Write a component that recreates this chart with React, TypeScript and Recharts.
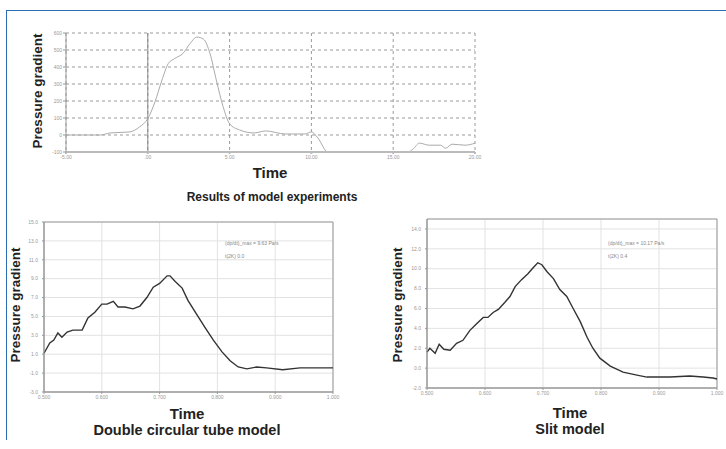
import React from "react";
import {
  LineChart,
  Line,
  CartesianGrid,
  XAxis,
  YAxis,
  ReferenceLine,
  ReferenceArea,
} from "recharts";

// upper chart: results of model experiments
const topTime = [-5, -2.9, -2.3, -1.1, -0.5, 0, 0.45, 0.85, 1.25, 1.65, 2.15, 2.6, 3.0, 3.4, 3.8, 4.2, 4.6, 5.0, 5.6, 6.5, 7.2, 8.4, 9.6, 10.0, 10.4, 11.0, 13.5, 15.9, 16.2, 16.6, 17.2, 17.9, 18.2, 18.6, 19.4, 20];
const topPressure = [0, 0, 12, 18, 48, 96, 198, 318, 420, 450, 480, 540, 576, 564, 480, 318, 168, 66, 30, 12, 24, 6, 6, 18, -18, -100, -100, -100, -84, -48, -60, -60, -78, -54, -60, -48];
const topXTicks = [-5, 0, 5, 10, 15, 20];
const topXLabels = ["-5.00", ".00", "5.00", "10.00", "15.00", "20.00"];
const topYTicks = [-100, 0, 100, 200, 300, 400, 500, 600];

// double circular tube model
const dctTime = [0.5, 0.51, 0.517, 0.524, 0.531, 0.54, 0.55, 0.566, 0.576, 0.588, 0.6, 0.609, 0.62, 0.628, 0.64, 0.654, 0.666, 0.678, 0.689, 0.7, 0.713, 0.718, 0.727, 0.739, 0.749, 0.765, 0.779, 0.793, 0.808, 0.822, 0.836, 0.851, 0.868, 0.885, 0.913, 0.943, 1.0];
const dctPressure = [1.1, 2.2, 2.5, 3.25, 2.8, 3.35, 3.55, 3.55, 4.85, 5.45, 6.3, 6.3, 6.6, 6.0, 6.0, 5.8, 6.1, 7.0, 8.1, 8.5, 9.3, 9.3, 8.7, 8.0, 6.7, 5.15, 3.8, 2.5, 1.25, 0.3, -0.35, -0.55, -0.35, -0.45, -0.65, -0.45, -0.45];
const dctYTicks = [-3, -1, 1, 3, 5, 7, 9, 11, 13, 15];
const dctNote = ["(dp/dt)_max = 9.63 Pa/s", "t(2K) 0.0"];

// slit model
const slitTime = [0.5, 0.505, 0.514, 0.521, 0.529, 0.54, 0.551, 0.562, 0.574, 0.586, 0.597, 0.605, 0.614, 0.623, 0.634, 0.643, 0.652, 0.663, 0.674, 0.683, 0.691, 0.698, 0.707, 0.718, 0.729, 0.741, 0.752, 0.764, 0.776, 0.786, 0.798, 0.816, 0.838, 0.862, 0.879, 0.919, 0.953, 0.976, 0.993, 1.0];
const slitPressure = [1.6, 2.0, 1.5, 2.4, 1.9, 1.8, 2.5, 2.8, 3.8, 4.5, 5.1, 5.1, 5.6, 5.9, 6.6, 7.2, 8.2, 8.9, 9.5, 10.1, 10.6, 10.4, 9.7, 9.0, 7.9, 7.2, 6.0, 4.7, 3.1, 2.0, 1.0, 0.2, -0.4, -0.7, -0.9, -0.9, -0.8, -0.9, -1.0, -1.1];
const slitYTicks = [-2, 0, 2, 4, 6, 8, 10, 12, 14];
const slitNote = ["(dp/dt)_max = 10.17 Pa/s", "t(2K) 0.4"];

const smallXTicks = [0.5, 0.6, 0.7, 0.8, 0.9, 1.0];

const rows = (xs: number[], ys: number[]) => xs.map((t, i) => ({ t, p: ys[i] }));

const tickStyle = { fontSize: 5, fill: "#999", fontFamily: "Liberation Sans, sans-serif" };
const bold = "'Liberation Sans', Arial, sans-serif";

function Txt(props: { x: number; y: number; size: number; rotate?: boolean; children: React.ReactNode; color?: string }) {
  return (
    <div
      style={{
        position: "absolute",
        left: props.x,
        top: props.y,
        transform: `translate(-50%, -50%)${props.rotate ? " rotate(-90deg)" : ""}`,
        fontFamily: bold,
        fontWeight: 700,
        fontSize: props.size,
        color: props.color ?? "#222",
        whiteSpace: "nowrap",
        lineHeight: 1,
      }}
    >
      {props.children}
    </div>
  );
}

function Note(props: { x: number; y: number; lines: string[] }) {
  return (
    <div style={{ position: "absolute", left: props.x, top: props.y, fontFamily: bold, fontSize: 5, color: "#888", lineHeight: "13px" }}>
      {props.lines.map((l) => (
        <div key={l}>{l}</div>
      ))}
    </div>
  );
}

function SmallChart(props: {
  left: number; top: number; width: number; height: number;
  margin: { top: number; right: number; left: number; bottom: number };
  yWidth: number; xHeight: number;
  data: { t: number; p: number }[];
  yDomain: [number, number]; yTicks: number[];
}) {
  return (
    <div style={{ position: "absolute", left: props.left, top: props.top }}>
      <LineChart width={props.width} height={props.height} data={props.data} margin={props.margin}>
        <CartesianGrid stroke="#e2e2e2" />
        <XAxis
          dataKey="t" type="number" domain={[0.5, 1.0]} ticks={smallXTicks}
          tickFormatter={(v: number) => v.toFixed(3)} height={props.xHeight}
          tick={tickStyle} tickSize={2} tickMargin={1} stroke="#999" interval={0}
        />
        <YAxis
          type="number" domain={props.yDomain} ticks={props.yTicks}
          tickFormatter={(v: number) => v.toFixed(1)} width={props.yWidth}
          tick={tickStyle} tickSize={2} tickMargin={4} stroke="#999" interval={0}
        />
        <ReferenceArea x1={0.5} x2={1.0} y1={props.yDomain[0]} y2={props.yDomain[1]} fill="none" stroke="#999" strokeWidth={1} />
        <Line type="linear" dataKey="p" stroke="#333" strokeWidth={1.4} dot={false} isAnimationActive={false} />
      </LineChart>
    </div>
  );
}

export default function App() {
  const topData = rows(topTime, topPressure);
  return (
    <div style={{ position: "absolute", left: 0, top: 0, width: 726, height: 449, background: "#fff", overflow: "hidden" }}>
      {/* blue frame */}
      <div style={{ position: "absolute", left: 6, top: 10, width: 720, height: 0, borderTop: "1.5px solid #2a6db5" }} />
      <div style={{ position: "absolute", left: 6, top: 10, width: 0, height: 430, borderLeft: "1.5px solid #2a6db5" }} />

      <div style={{ position: "absolute", left: 0, top: 0 }}>
        <LineChart width={500} height={170} data={topData} margin={{ top: 33, right: 25, left: 0, bottom: 0 }}>
          <CartesianGrid stroke="#9a9a9a" strokeDasharray="3 3" />
          <XAxis
            dataKey="t" type="number" domain={[-5, 20]} ticks={topXTicks}
            tickFormatter={(v: number) => topXLabels[topXTicks.indexOf(v)]}
            height={18} tick={tickStyle} tickSize={2} tickMargin={1}
            stroke="#bbb" strokeWidth={2} interval={0}
          />
          <YAxis
            type="number" domain={[-100, 600]} ticks={topYTicks} width={66}
            tick={tickStyle} tickSize={3} tickMargin={1} stroke="#999" interval={0}
          />
          <ReferenceLine x={0} stroke="#888" />
          <Line type="monotone" dataKey="p" stroke="#aaa" strokeWidth={1} dot={false} isAnimationActive={false} />
        </LineChart>
      </div>

      <Txt x={38} y={91} size={13.5} rotate>Pressure gradient</Txt>
      <Txt x={270} y={172} size={15}>Time</Txt>
      <Txt x={272} y={197} size={12}>Results of model experiments</Txt>

      <SmallChart
        left={0} top={200} width={340} height={205}
        margin={{ top: 22, right: 7, left: 0, bottom: 0 }}
        yWidth={44} xHeight={13}
        data={rows(dctTime, dctPressure)} yDomain={[-3, 15]} yTicks={dctYTicks}
      />
      <Note x={225} y={237} lines={dctNote} />
      <Txt x={16} y={305} size={13.5} rotate>Pressure gradient</Txt>
      <Txt x={187} y={413} size={15}>Time</Txt>
      <Txt x={187} y={430} size={14.5}>Double circular tube model</Txt>

      <SmallChart
        left={370} top={200} width={356} height={202}
        margin={{ top: 19, right: 9, left: 0, bottom: 0 }}
        yWidth={57} xHeight={14}
        data={rows(slitTime, slitPressure)} yDomain={[-2, 15]} yTicks={slitYTicks}
      />
      <Note x={608} y={237} lines={slitNote} />
      <Txt x={398} y={305} size={13.5} rotate>Pressure gradient</Txt>
      <Txt x={570} y={412} size={15}>Time</Txt>
      <Txt x={570} y={429} size={14.5}>Slit model</Txt>
    </div>
  );
}
